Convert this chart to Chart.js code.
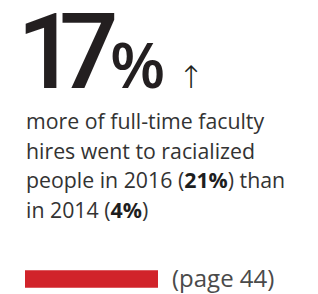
<!DOCTYPE html>
<html>
<head>
<meta charset="utf-8">
<script src="https://cdn.jsdelivr.net/npm/chart.js@4"></script>
<style>
  @font-face {
    font-family: "BigNum";
    src: local("Roboto Medium"), local("Roboto-Medium");
    font-weight: 500;
    ascent-override: 76%;
    descent-override: 8%;
  }
  html, body { margin: 0; padding: 0; background: #fff; }
  body { width: 318px; height: 294px; position: relative; overflow: hidden; font-family: "Open Sans", sans-serif; }
  #big { position: absolute; left: 17px; top: 8px; font-size: 0; color: #231f20; font-family: BigNum, Roboto, sans-serif; font-weight: 500; white-space: nowrap; }
  #big .num { font-size: 105px; line-height: 88px; }
  #big .one { letter-spacing: -18px; }
  #big .seven { letter-spacing: -9px; }
  #big .pct { font-family: "Open Sans", sans-serif; font-weight: 600; font-size: 64px; line-height: 60px; }
  #big .arrow { font-family: "DejaVu Sans", sans-serif; font-size: 31px; line-height: 32px; font-weight: 200; margin-left: 13px; color: #231f20; }
  #desc { position: absolute; left: 26px; top: 106px; width: 292px; font-size: 21.3px; line-height: 29.5px; color: #333; white-space: nowrap; }
  #desc b { font-weight: 700; color: #1e1e1e; }
  #barWrap { position: absolute; left: 0; top: 263px; width: 170px; height: 32px; }
  #page { position: absolute; left: 172px; top: 261px; font-size: 24px; color: #4a4a4a; }
</style>
</head>
<body>
<div id="big"><span class="num"><span class="one">1</span><span class="seven">7</span></span><span class="pct">%</span><span class="arrow">↑</span></div>
<div id="desc">more of full-time faculty<br>hires went to racialized<br>people in 2016 (<b>21%</b>) than<br>in 2014 (<b>4%</b>)</div>
<div id="barWrap"><canvas id="chart"></canvas></div>
<div id="page">(page 44)</div>
<script>
const categories = ['Change 2014 to 2016'];
const changeValues = [17];
const axisMax = 17;

new Chart(document.getElementById('chart'), {
  type: 'bar',
  data: {
    labels: categories,
    datasets: [{ data: changeValues, backgroundColor: '#d1232a', barThickness: 17, borderWidth: 0 }]
  },
  options: {
    indexAxis: 'y',
    responsive: true,
    maintainAspectRatio: false,
    animation: false,
    layout: { padding: { left: 25, right: 12, top: 0, bottom: 0 } },
    plugins: { legend: { display: false }, tooltip: { enabled: false } },
    scales: {
      x: { display: false, min: 0, max: axisMax },
      y: { display: false }
    }
  }
});
</script>
</body>
</html>
